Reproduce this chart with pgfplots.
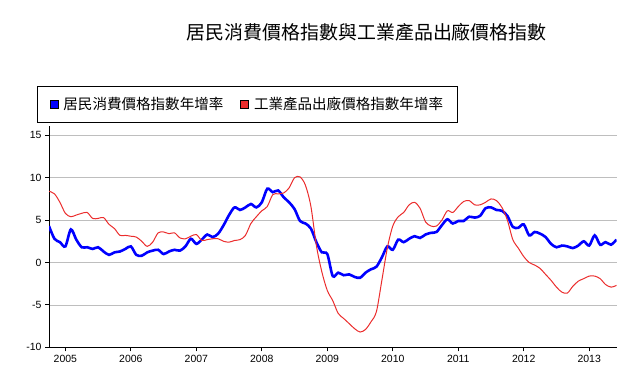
\documentclass[border=0pt]{standalone}
\usepackage{fontspec}
\setmainfont{Liberation Sans}
\newfontfamily\cjk{Noto Sans CJK TC}
\usepackage{pgfplots}
\usepackage{pgfplotstable}
\pgfplotsset{compat=1.18}
\definecolor{cpiblue}{RGB}{0,0,255}
\definecolor{ppired}{RGB}{235,45,45}
\definecolor{gridgray}{RGB}{190,190,190}
\pgfplotstableread{
t cpi ppi
2004.75 4.3 8.4
2004.8333 2.8 8.1
2004.9167 2.4 7.1
2005.0 1.9 5.8
2005.0833 3.9 5.4
2005.1667 2.7 5.6
2005.25 1.8 5.8
2005.3333 1.8 5.9
2005.4167 1.6 5.2
2005.5 1.8 5.2
2005.5833 1.3 5.3
2005.6667 0.9 4.5
2005.75 1.2 4.0
2005.8333 1.3 3.2
2005.9167 1.6 3.2
2006.0 1.9 3.1
2006.0833 0.9 3.0
2006.1667 0.8 2.5
2006.25 1.2 1.9
2006.3333 1.4 2.4
2006.4167 1.5 3.5
2006.5 1.0 3.6
2006.5833 1.3 3.4
2006.6667 1.5 3.5
2006.75 1.4 2.9
2006.8333 1.9 2.8
2006.9167 2.8 3.1
2007.0 2.2 3.3
2007.0833 2.7 2.6
2007.1667 3.3 2.7
2007.25 3.0 2.8
2007.3333 3.4 2.8
2007.4167 4.4 2.5
2007.5 5.6 2.4
2007.5833 6.5 2.6
2007.6667 6.2 2.7
2007.75 6.5 3.2
2007.8333 6.9 4.6
2007.9167 6.5 5.4
2008.0 7.1 6.1
2008.0833 8.7 6.6
2008.1667 8.3 8.0
2008.25 8.5 8.1
2008.3333 7.7 8.2
2008.4167 7.1 8.8
2008.5 6.3 10.0
2008.5833 4.9 10.1
2008.6667 4.6 9.1
2008.75 4.0 6.6
2008.8333 2.4 2.0
2008.9167 1.2 -1.1
2009.0 1.0 -3.3
2009.0833 -1.6 -4.5
2009.1667 -1.2 -6.0
2009.25 -1.5 -6.6
2009.3333 -1.4 -7.2
2009.4167 -1.7 -7.8
2009.5 -1.8 -8.2
2009.5833 -1.2 -7.9
2009.6667 -0.8 -7.0
2009.75 -0.5 -5.8
2009.8333 0.6 -2.1
2009.9167 1.9 1.7
2010.0 1.5 4.3
2010.0833 2.7 5.4
2010.1667 2.4 5.9
2010.25 2.8 6.8
2010.3333 3.1 7.1
2010.4167 2.9 6.4
2010.5 3.3 4.8
2010.5833 3.5 4.3
2010.6667 3.6 4.3
2010.75 4.4 5.0
2010.8333 5.1 6.1
2010.9167 4.6 5.9
2011.0 4.9 6.6
2011.0833 4.9 7.2
2011.1667 5.4 7.3
2011.25 5.3 6.8
2011.3333 5.5 6.8
2011.4167 6.4 7.1
2011.5 6.5 7.5
2011.5833 6.2 7.3
2011.6667 6.1 6.5
2011.75 5.5 5.0
2011.8333 4.2 2.7
2011.9167 4.1 1.7
2012.0 4.5 0.7
2012.0833 3.2 0.0
2012.1667 3.6 -0.3
2012.25 3.4 -0.7
2012.3333 3.0 -1.4
2012.4167 2.2 -2.1
2012.5 1.8 -2.9
2012.5833 2.0 -3.5
2012.6667 1.9 -3.6
2012.75 1.7 -2.8
2012.8333 2.0 -2.2
2012.9167 2.5 -1.9
2013.0 2.0 -1.6
2013.0833 3.2 -1.6
2013.1667 2.1 -1.9
2013.25 2.4 -2.6
2013.3333 2.1 -2.9
2013.4167 2.7 -2.7
}\datatable
\begin{document}
\begin{tikzpicture}
\begin{axis}[
  name=ax,
  scale only axis, width=567.5bp, height=221.3bp,
  xmin=2004.75, xmax=2013.4167, ymin=-10, ymax=16.1,
  axis x line*=bottom, axis y line*=left,
  axis line style={black, line width=1bp},
  tick align=outside, major tick length=4bp,
  tick style={black, line width=1bp},
  xtick={2005,2006,2007,2008,2009,2010,2011,2012,2013},
  xticklabels={2005,2006,2007,2008,2009,2010,2011,2012,2013},
  ytick={-10,-5,0,5,10,15},
  yticklabels={-10,-5,0,5,10,15},
  ymajorgrids, major grid style={gridgray, line width=0.8bp},
  tick label style={font=\fontsize{10.5}{12}\selectfont},
  title={\cjk 居民消費價格指數與工業產品出廠價格指數},
  title style={font=\fontsize{19}{23}\selectfont, at={(axis description cs:0.56,1.395)}, anchor=center},
  legend columns=2,
  legend style={at={(axis description cs:-0.0206,1.181)}, anchor=north west,
    draw=black, line width=1bp, font=\fontsize{14.6}{17}\selectfont,
    inner xsep=12bp, inner ysep=9bp,
    nodes={inner sep=2bp},
    /tikz/every odd column/.append style={column sep=3bp},
    /tikz/every even column/.append style={column sep=15bp}},
]
\addplot[cpiblue, line width=2.6bp, smooth,
  legend image code/.code={\draw[fill=cpiblue,draw=black,line width=0.6bp] (0bp,-4bp) rectangle (8bp,4bp);}]
  table[x=t,y=cpi]{\datatable};
\addlegendentry{\cjk 居民消費價格指數年增率}
\addplot[ppired, line width=1bp, smooth,
  legend image code/.code={\draw[fill=ppired,draw=black,line width=0.6bp] (0bp,-4bp) rectangle (8bp,4bp);}]
  table[x=t,y=ppi]{\datatable};
\addlegendentry{\cjk 工業產品出廠價格指數年增率}
\end{axis}
\path (ax.south west) ++(-49bp,-34.7bp) rectangle ++(628bp,382bp);
\end{tikzpicture}
\end{document}
